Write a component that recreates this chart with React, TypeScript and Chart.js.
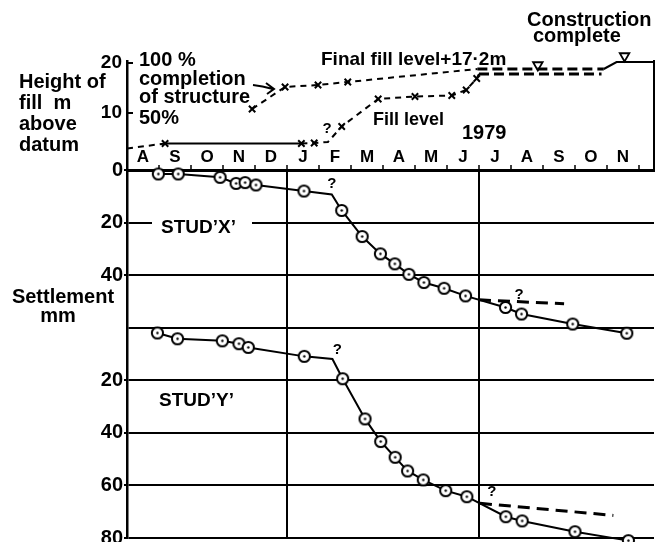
import React, { useEffect, useRef } from 'react';
import { Chart, registerables } from 'chart.js';
Chart.register(...registerables);

const W = 656;
const H = 542;
const FONT = '"Liberation Sans", Arial, Helvetica, sans-serif';

// x axis: months from start of August 1978 (0) to early December 1979
const X_MAX = 16.47;
const monthLetters = ['A', 'S', 'O', 'N', 'D', 'J', 'F', 'M', 'A', 'M', 'J', 'J', 'A', 'S', 'O', 'N'];
const yearBoundaryMonths = [5, 11];

// Fill level (m above datum)
const fillMonth = [0, 1.19, 5.45, 5.85, 6.28, 6.71, 7.85, 9.0, 10.15, 10.6, 10.93, 11.0, 14.83];
const fillHeight = [2.9, 3.9, 3.9, 4.0, 4.2, 7.3, 12.8, 13.3, 13.5, 14.6, 16.9, 17.8, 17.8];
const fillMarked = [0, 1, 1, 1, 0, 1, 1, 1, 1, 1, 1, 0, 0];

// Completion of structure (%)
const structMonth = [3.91, 4.94, 5.97, 6.9, 10.95, 14.9, 15.3, 16.47];
const structPct = [54, 76, 78, 81, 94, 94, 101, 101];
const structMarked = [1, 1, 1, 1, 0, 0, 0, 0];

// Milestone triangles (m)
const milestoneMonth = [12.84, 15.55];
const milestoneHeight = [19.6, 21.4];

// Settlement stud X (mm)
const studXMonth = [0.98, 1.6, 2.91, 3.41, 3.69, 4.03, 5.53, 6.4, 6.71, 7.35, 7.92, 8.37, 8.81, 9.28, 9.91, 10.58, 11.83, 12.33, 13.93, 15.62];
const studXmm = [1.5, 1.5, 2.8, 5.1, 4.8, 5.7, 8.0, 9.3, 15.4, 25.3, 31.9, 35.7, 39.7, 42.8, 45.0, 47.9, 52.3, 54.8, 58.6, 62.1];
const studXQuery = 7;
const studXAltMonth = [11.0, 13.66];
const studXAltmm = [49.4, 50.9];

// Settlement stud Y (mm)
const studYMonth = [0.95, 1.58, 2.98, 3.5, 3.79, 5.54, 6.42, 6.74, 7.44, 7.93, 8.38, 8.77, 9.26, 9.96, 10.62, 11.84, 12.35, 14.0, 15.67];
const studYmm = [2.0, 4.2, 5.0, 6.1, 7.5, 10.9, 11.9, 19.4, 34.7, 43.3, 49.3, 54.5, 57.9, 62.0, 64.3, 71.9, 73.5, 77.6, 81.0];
const studYQuery = 6;
const studYAltMonth = [11.03, 15.2];
const studYAltmm = [66.8, 71.4];

// stud Y panel is drawn below stud X panel, offset by 60 mm
const PANEL_OFFSET = 60;
const settlementTicks = [0, 20, 40, 60, 80, 100, 120, 140];
const fillTicks = [10, 20];

const pts = (xs: number[], ys: number[], off = 0) => xs.map((x, i) => ({ x, y: ys[i] + off }));

function makeRingDot(): HTMLCanvasElement {
  const c = document.createElement('canvas');
  c.width = 15;
  c.height = 15;
  const g = c.getContext('2d')!;
  g.beginPath();
  g.arc(7.5, 7.5, 5.6, 0, Math.PI * 2);
  g.fillStyle = '#fff';
  g.fill();
  g.lineWidth = 2;
  g.strokeStyle = '#000';
  g.stroke();
  g.beginPath();
  g.arc(7.5, 7.5, 1.2, 0, Math.PI * 2);
  g.fillStyle = '#000';
  g.fill();
  return c;
}

function txt(ctx: CanvasRenderingContext2D, s: string, x: number, y: number, size: number, align: CanvasTextAlign = 'left') {
  ctx.font = `bold ${size}px ${FONT}`;
  ctx.fillStyle = '#000';
  ctx.textAlign = align;
  ctx.textBaseline = 'middle';
  ctx.fillText(s, x, y);
}

const topAnnot = {
  id: 'topAnnot',
  afterDraw(chart: any) {
    const ctx = chart.ctx as CanvasRenderingContext2D;
    const xs = chart.scales.x;
    const ys = chart.scales.y;
    ctx.save();
    txt(ctx, 'Height of', 19, 82, 20);
    txt(ctx, 'fill  m', 19, 103, 20);
    txt(ctx, 'above', 19, 124, 20);
    txt(ctx, 'datum', 19, 145, 20);
    txt(ctx, '100 %', 139, 60, 20);
    txt(ctx, 'completion', 139, 79, 20);
    txt(ctx, 'of structure', 139, 97, 20);
    txt(ctx, '50%', 139, 118, 20);
    // arrow
    ctx.strokeStyle = '#000';
    ctx.lineWidth = 2;
    ctx.beginPath();
    ctx.moveTo(253, 85);
    ctx.quadraticCurveTo(262, 86, 273, 89);
    ctx.moveTo(266, 83);
    ctx.lineTo(274, 89);
    ctx.lineTo(267, 94);
    ctx.stroke();
    // inward tick marks on the fill axis
    const left = chart.chartArea.left;
    ctx.lineWidth = 2;
    ctx.beginPath();
    fillTicks.forEach((v) => {
      const py = ys.getPixelForValue(v);
      ctx.moveTo(left, py);
      ctx.lineTo(left + 6, py);
    });
    ctx.stroke();
    txt(ctx, 'Final fill level+17·2m', 321, 60, 19);
    txt(ctx, 'Fill level', 373, 120, 18);
    txt(ctx, '1979', 462, 133, 20);
    txt(ctx, 'Construction', 527, 20, 20);
    txt(ctx, 'complete', 533, 36, 20);
    txt(ctx, '?', xs.getPixelForValue(6.25), ys.getPixelForValue(6.8), 15, 'center');
    ctx.restore();
  },
};

const bottomAnnot = {
  id: 'bottomAnnot',
  afterDraw(chart: any) {
    const ctx = chart.ctx as CanvasRenderingContext2D;
    const xs = chart.scales.x;
    const ys = chart.scales.y;
    ctx.save();
    txt(ctx, 'Settlement', 63, 297, 20, 'center');
    txt(ctx, 'mm', 58, 316, 20, 'center');
    ctx.fillStyle = '#fff';
    ctx.fillRect(152, 214, 100, 24);
    txt(ctx, 'STUD’X’', 161, 228, 19);
    txt(ctx, 'STUD’Y’', 159, 401, 19);
    txt(ctx, '?', xs.getPixelForValue(studXMonth[studXQuery]), ys.getPixelForValue(studXmm[studXQuery]) - 11, 15, 'center');
    txt(ctx, '?', xs.getPixelForValue(studYMonth[studYQuery]) + 5, ys.getPixelForValue(studYmm[studYQuery] + PANEL_OFFSET) - 9, 15, 'center');
    txt(ctx, '?', xs.getPixelForValue(12.25), ys.getPixelForValue(47.6), 15, 'center');
    txt(ctx, '?', xs.getPixelForValue(11.4), ys.getPixelForValue(PANEL_OFFSET + 62.5), 15, 'center');
    ctx.restore();
  },
};

export default function App() {
  const topRef = useRef<HTMLCanvasElement>(null);
  const botRef = useRef<HTMLCanvasElement>(null);

  useEffect(() => {
    const ring = makeRingDot();
    const tickFont = { family: FONT, size: 20, weight: 'bold' as const };

    const bottom = new Chart(botRef.current!, {
      type: 'scatter',
      data: {
        datasets: [
          {
            data: pts(studXMonth, studXmm),
            showLine: true,
            borderColor: '#000',
            borderWidth: 2,
            pointStyle: ring as any,
            pointRadius: (c: any) => (c.dataIndex === studXQuery ? 0 : 5.5),
            clip: false as any,
          },
          {
            data: pts(studXAltMonth, studXAltmm),
            showLine: true,
            borderColor: '#000',
            borderWidth: 3,
            borderDash: [12, 7],
            pointRadius: 0,
          },
          {
            data: pts(studYMonth, studYmm, PANEL_OFFSET),
            showLine: true,
            borderColor: '#000',
            borderWidth: 2,
            pointStyle: ring as any,
            pointRadius: (c: any) => (c.dataIndex === studYQuery ? 0 : 5.5),
            clip: false as any,
          },
          {
            data: pts(studYAltMonth, studYAltmm, PANEL_OFFSET),
            showLine: true,
            borderColor: '#000',
            borderWidth: 3,
            borderDash: [12, 7],
            pointRadius: 0,
          },
        ],
      },
      options: {
        responsive: false,
        animation: false,
        events: [],
        layout: { autoPadding: false, padding: { left: 0, right: 2, top: 0, bottom: 4 } },
        plugins: { legend: { display: false }, tooltip: { enabled: false } },
        scales: {
          x: {
            type: 'linear',
            position: 'top',
            min: 0,
            max: X_MAX,
            afterBuildTicks: (s: any) => {
              s.ticks = monthLetters.map((_, i) => ({ value: i })).concat([{ value: monthLetters.length }]);
            },
            afterFit: (s: any) => {
              s.height = 170;
              s.paddingLeft = 0;
              s.paddingRight = 0;
            },
            ticks: {
              autoSkip: false,
              maxRotation: 0,
              minRotation: 0,
              labelOffset: 16,
              padding: -3,
              color: '#000',
              font: { family: FONT, size: 17, weight: 'bold' },
              callback: (v: any) => monthLetters[Math.round(Number(v))] ?? '',
            },
            grid: {
              color: (c: any) => (c.tick && yearBoundaryMonths.includes(c.tick.value) ? '#000' : 'rgba(0,0,0,0)'),
              lineWidth: 2,
              tickLength: 5,
              tickColor: '#000',
              tickWidth: 1.5,
            },
            border: { display: true, color: '#000', width: 3 },
          },
          y: {
            type: 'linear',
            position: 'left',
            reverse: true,
            min: 0,
            max: 140,
            afterBuildTicks: (s: any) => {
              s.ticks = settlementTicks.map((v) => ({ value: v }));
            },
            afterFit: (s: any) => {
              s.width = 127;
              s.paddingTop = 0;
              s.paddingBottom = 0;
            },
            ticks: {
              padding: 1,
              color: '#000',
              font: tickFont,
              callback: (v: any) => {
                const n = Number(v);
                if (n < PANEL_OFFSET) return String(n);
                if (n === PANEL_OFFSET) return '';
                return String(n - PANEL_OFFSET);
              },
            },
            grid: {
              color: '#000',
              lineWidth: 2,
              tickLength: 3,
              tickColor: (c: any) => (c.tick && c.tick.value === PANEL_OFFSET ? 'rgba(0,0,0,0)' : '#000'),
            },
            border: { color: '#000', width: 2.5 },
          },
        },
      } as any,
      plugins: [bottomAnnot],
    });

    const top = new Chart(topRef.current!, {
      type: 'scatter',
      data: {
        datasets: [
          {
            data: pts(fillMonth, fillHeight),
            yAxisID: 'y',
            showLine: true,
            borderColor: '#000',
            borderWidth: 2,
            borderDash: [6, 5],
            segment: {
              borderDash: (c: any) => (c.p0DataIndex === 1 ? [] : c.p0DataIndex === 11 ? [10, 5] : undefined),
              borderWidth: (c: any) => (c.p0DataIndex === 11 ? 3 : undefined),
            },
            pointStyle: 'crossRot',
            pointRadius: (c: any) => (fillMarked[c.dataIndex] ? 4.5 : 0),
            pointBorderColor: '#000',
            pointBorderWidth: 2,
          },
          {
            data: pts(structMonth, structPct),
            yAxisID: 'yp',
            showLine: true,
            borderColor: '#000',
            borderWidth: 2,
            borderDash: [6, 5],
            segment: {
              borderDash: (c: any) => (c.p0DataIndex >= 5 ? [] : c.p0DataIndex === 4 ? [10, 5] : undefined),
              borderWidth: (c: any) => (c.p0DataIndex === 4 ? 3 : undefined),
            },
            pointStyle: 'crossRot',
            pointRadius: (c: any) => (structMarked[c.dataIndex] ? 4.5 : 0),
            pointBorderColor: '#000',
            pointBorderWidth: 2,
            clip: false as any,
          },
          {
            data: pts(milestoneMonth, milestoneHeight),
            yAxisID: 'y',
            showLine: false,
            pointStyle: 'triangle',
            rotation: 180,
            pointRadius: 5.5,
            pointBackgroundColor: '#fff',
            pointBorderColor: '#000',
            pointBorderWidth: 1.8,
            clip: false as any,
          },
        ],
      },
      options: {
        responsive: false,
        animation: false,
        events: [],
        layout: { autoPadding: false, padding: { left: 0, right: 0, top: 61, bottom: H - 170 } },
        plugins: { legend: { display: false }, tooltip: { enabled: false } },
        scales: {
          x: { type: 'linear', min: 0, max: X_MAX, display: false },
          y: {
            type: 'linear',
            position: 'left',
            min: -1.4,
            max: 20.4,
            afterBuildTicks: (s: any) => {
              s.ticks = fillTicks.map((v) => ({ value: v }));
            },
            afterFit: (s: any) => {
              s.width = 127;
              s.paddingTop = 0;
              s.paddingBottom = 0;
            },
            ticks: { padding: 5, color: '#000', font: { family: FONT, size: 19, weight: 'bold' } },
            grid: { drawOnChartArea: false, drawTicks: false },
            border: { color: '#000', width: 2.5 },
          },
          yp: { type: 'linear', position: 'left', min: -7, max: 102, display: false },
          yr: {
            type: 'linear',
            position: 'right',
            min: 0,
            max: 1,
            ticks: { display: false },
            grid: { display: false, drawTicks: false },
            border: { display: true, color: '#000', width: 2 },
            afterFit: (s: any) => {
              s.width = 2;
              s.paddingTop = 0;
              s.paddingBottom = 0;
            },
          },
        },
      } as any,
      plugins: [topAnnot],
    });

    return () => {
      bottom.destroy();
      top.destroy();
    };
  }, []);

  return (
    <div style={{ position: 'fixed', left: 0, top: 0, width: W, height: H, background: '#fff' }}>
      <canvas ref={botRef} width={W} height={H} style={{ position: 'absolute', left: 0, top: 0 }} />
      <canvas ref={topRef} width={W} height={H} style={{ position: 'absolute', left: 0, top: 0 }} />
    </div>
  );
}
